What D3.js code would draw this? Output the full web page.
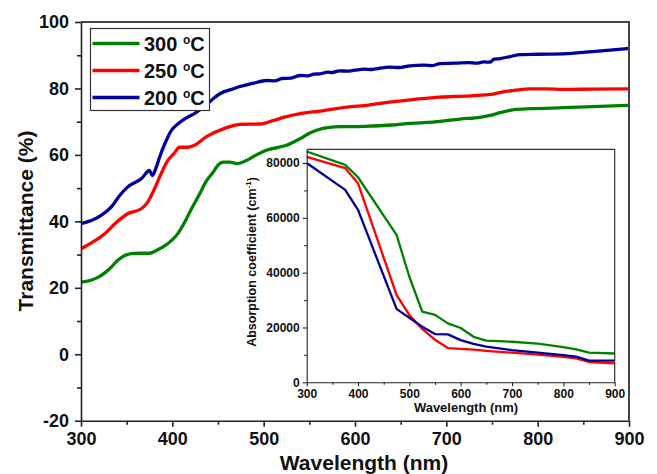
<!DOCTYPE html>
<html>
<head>
<meta charset="utf-8">
<script src="https://cdn.jsdelivr.net/npm/d3@7"></script>
<style>
  body { margin: 0; background: #fff; }
  svg text { font-family: "Liberation Sans", Arial, sans-serif; font-weight: bold; fill: #111; }
</style>
</head>
<body>
<svg id="chart" width="657" height="474"></svg>
<script>
// main panel: transmittance spectra
const wl300 = [300, 310, 319, 326, 333, 340, 348, 355, 365, 375, 383, 392, 399, 406, 414, 421, 430, 437, 445, 451, 456, 463, 471, 481, 492, 503, 515, 525, 540, 550, 558, 570, 585, 600, 620, 640, 657, 675, 693, 715, 737, 748, 760, 774, 792, 828, 860, 900];
const t300 = [21.7, 22.2, 23.2, 24.5, 26.2, 28.2, 29.7, 30.3, 30.4, 30.4, 31.3, 32.7, 34.2, 36.3, 40, 43.8, 48.3, 52, 54.9, 57.2, 57.8, 57.8, 57.4, 58.3, 60, 61.4, 62.2, 62.9, 64.9, 66.5, 67.4, 68.2, 68.5, 68.5, 68.7, 69, 69.4, 69.7, 70.1, 70.8, 71.3, 71.9, 72.8, 73.6, 73.9, 74.2, 74.5, 74.9];

const wl250 = [300, 313, 326, 338, 351, 366, 373, 380, 386, 395, 402, 408, 417, 425, 437, 452, 463, 474, 496, 511, 525, 540, 562, 591, 615, 638, 665, 693, 720, 748, 762, 774, 792, 810, 828, 860, 900];
const t250 = [31.7, 33.8, 36.3, 39.5, 42.3, 43.8, 45.8, 49.5, 53.3, 58.3, 60.5, 62.3, 62.3, 63, 65.4, 67.4, 68.5, 69.2, 69.3, 70.4, 71.5, 72.4, 73.2, 74.4, 75, 75.9, 76.7, 77.4, 77.7, 78.2, 79, 79.4, 79.9, 79.9, 79.7, 79.8, 79.9];

const wl200 = [300, 312, 322, 333, 343, 351, 366, 375, 378, 382, 386, 392, 399, 406, 414, 425, 437, 445, 452, 467, 474, 488, 503, 512, 520, 530, 540, 548, 555, 562, 570, 575, 583, 591, 600, 610, 618, 625, 638, 648, 660, 675, 685, 693, 710, 725, 733, 741, 748, 752, 759, 770, 781, 800, 828, 860, 900];
const t200 = [39.3, 40.3, 41.8, 44.3, 48, 50.3, 52.8, 55.3, 53.8, 56, 59.3, 63.5, 67.4, 69.3, 70.9, 72.6, 75, 77, 78.4, 79.9, 80.6, 81.5, 82.4, 82.3, 83, 83.1, 83.9, 83.8, 84.3, 84.4, 84.9, 84.8, 85.3, 85.2, 85.5, 85.8, 85.7, 86, 86.4, 86.3, 86.8, 87, 86.9, 87.5, 87.6, 87.8, 87.6, 88, 87.9, 88.8, 89, 89.6, 90.2, 90.3, 90.4, 91.1, 92];

// inset: absorption coefficient
const insetWl = [300, 375, 400, 475, 500, 525, 550, 575, 600, 625, 650, 700, 750, 800, 825, 850, 900];
const a300 = [84200, 79300, 74800, 53800, 38500, 25800, 24600, 21500, 19800, 16600, 15200, 14800, 14100, 12800, 12000, 10800, 10500];
const a250 = [82200, 78100, 72600, 31900, 24500, 19500, 15500, 12500, 12200, 11900, 11500, 10800, 10100, 9300, 8700, 7400, 6900];
const a200 = [80000, 70200, 62900, 26800, 23500, 20300, 17600, 17500, 15400, 14000, 13000, 11700, 10800, 9950, 9350, 7900, 7900];

const seriesLabels = ['300', '250', '200'];
const seriesColors = ['#008000', '#ff0000', '#00009a'];

const mainSeries = [
  { x: wl300, y: t300 },
  { x: wl250, y: t250 },
  { x: wl200, y: t200 }
];
const insetSeries = [a300, a250, a200];

const svg = d3.select('#chart');
const plain = d => String(d);   // "-20", "80000": no unicode minus, no thousands comma

function drawFrame(g, x, y, opts) {
  const [x0, x1] = x.range();
  const [y0, y1] = y.range();
  g.append('g')
    .attr('transform', 'translate(0,' + y0 + ')')
    .call(d3.axisBottom(x).tickValues(opts.xMinor).tickSize(opts.minor).tickFormat(''))
    .call(a => a.select('.domain').remove());
  g.append('g')
    .attr('transform', 'translate(' + x0 + ',0)')
    .call(d3.axisLeft(y).tickValues(opts.yMinor).tickSize(opts.minor).tickFormat(''))
    .call(a => a.select('.domain').remove());
  const xa = g.append('g')
    .attr('transform', 'translate(0,' + y0 + ')')
    .call(d3.axisBottom(x).tickValues(opts.xMajor).tickSize(opts.major).tickSizeOuter(0).tickPadding(opts.pad).tickFormat(plain));
  const ya = g.append('g')
    .attr('transform', 'translate(' + x0 + ',0)')
    .call(d3.axisLeft(y).tickValues(opts.yMajor).tickSize(opts.major).tickSizeOuter(0).tickPadding(opts.pad).tickFormat(plain));
  [xa, ya].forEach(a => {
    a.selectAll('text').style('font-size', opts.font + 'px').attr('fill', '#111');
  });
  g.selectAll('.tick line').attr('stroke', '#222').attr('stroke-width', opts.sw);
  g.selectAll('.domain').attr('stroke', '#222').attr('stroke-width', opts.sw);
  // top and right border
  g.append('path')
    .attr('d', 'M' + x0 + ',' + y1 + 'H' + x1 + 'V' + y0)
    .attr('fill', 'none')
    .attr('stroke', opts.borderColor)
    .attr('stroke-width', opts.borderWidth);
}

// ---- main chart ----
const x = d3.scaleLinear().domain([300, 900]).range([81, 629]);
const y = d3.scaleLinear().domain([-20, 100]).range([420.7, 22]);

const main = svg.append('g');

const line = d3.line().x(d => x(d[0])).y(d => y(d[1])).curve(d3.curveMonotoneX);
mainSeries.forEach((s, i) => {
  main.append('path')
    .datum(s.x.map((v, j) => [v, s.y[j]]))
    .attr('fill', 'none')
    .attr('stroke', seriesColors[i])
    .attr('stroke-width', 3.3)
    .attr('stroke-linejoin', 'round')
    .attr('d', line);
});

drawFrame(main, x, y, {
  xMajor: d3.range(300, 901, 100), xMinor: d3.range(350, 900, 100),
  yMajor: d3.range(-20, 101, 20), yMinor: d3.range(-10, 100, 20),
  major: 6, minor: 4, pad: 6, font: 18, sw: 1.6,
  borderColor: '#444', borderWidth: 2
});

main.append('text')
  .attr('x', 364).attr('y', 470)
  .attr('text-anchor', 'middle')
  .style('font-size', '21px')
  .text('Wavelength (nm)');

main.append('text')
  .attr('transform', 'translate(33,221) rotate(-90)')
  .attr('text-anchor', 'middle')
  .style('font-size', '21px')
  .text('Transmittance (%)');

// legend
const legend = main.append('g');
legend.append('rect')
  .attr('x', 90.5).attr('y', 28.5).attr('width', 119).attr('height', 82)
  .attr('fill', '#fff').attr('stroke', '#333').attr('stroke-width', 1.2);
seriesLabels.forEach((lab, i) => {
  const ly = 43.5 + i * 27;
  legend.append('line')
    .attr('x1', 92.5).attr('x2', 139.5).attr('y1', ly).attr('y2', ly)
    .attr('stroke', seriesColors[i]).attr('stroke-width', 3.3);
  const t = legend.append('text')
    .attr('x', 144).attr('y', ly + 7.5)
    .style('font-size', '20px');
  t.append('tspan').text(lab + ' ');
  t.append('tspan').attr('dy', -7).style('font-size', '12px').text('o');
  t.append('tspan').attr('dy', 7).text('C');
});

// ---- inset ----
const ix = d3.scaleLinear().domain([300, 900]).range([306.7, 614.7]);
const iy = d3.scaleLinear().domain([0, 85000]).range([382.3, 149.3]);

const inset = svg.append('g');
inset.append('rect')
  .attr('x', ix.range()[0]).attr('y', iy.range()[1])
  .attr('width', ix.range()[1] - ix.range()[0])
  .attr('height', iy.range()[0] - iy.range()[1])
  .attr('fill', '#fff');

const iline = d3.line().x(d => ix(d[0])).y(d => iy(d[1]));
insetSeries.forEach((vals, i) => {
  inset.append('path')
    .datum(insetWl.map((v, j) => [v, vals[j]]))
    .attr('fill', 'none')
    .attr('stroke', seriesColors[i])
    .attr('stroke-width', 2.3)
    .attr('stroke-linejoin', 'round')
    .attr('d', iline);
});

drawFrame(inset, ix, iy, {
  xMajor: d3.range(300, 901, 100), xMinor: d3.range(350, 900, 100),
  yMajor: d3.range(0, 80001, 20000), yMinor: d3.range(10000, 80001, 20000),
  major: 4, minor: 2.5, pad: 3, font: 12, sw: 1.1,
  borderColor: '#333', borderWidth: 1.2
});

inset.append('text')
  .attr('x', 466).attr('y', 412)
  .attr('text-anchor', 'middle')
  .style('font-size', '13px')
  .text('Wavelength (nm)');

const ylab = inset.append('text')
  .attr('transform', 'translate(256,262) rotate(-90)')
  .attr('text-anchor', 'middle')
  .style('font-size', '12.5px');
ylab.append('tspan').text('Absorption coefficient (cm');
ylab.append('tspan').attr('dy', -5).style('font-size', '8px').text('-1');
ylab.append('tspan').attr('dy', 5).text(')');
</script>
</body>
</html>
